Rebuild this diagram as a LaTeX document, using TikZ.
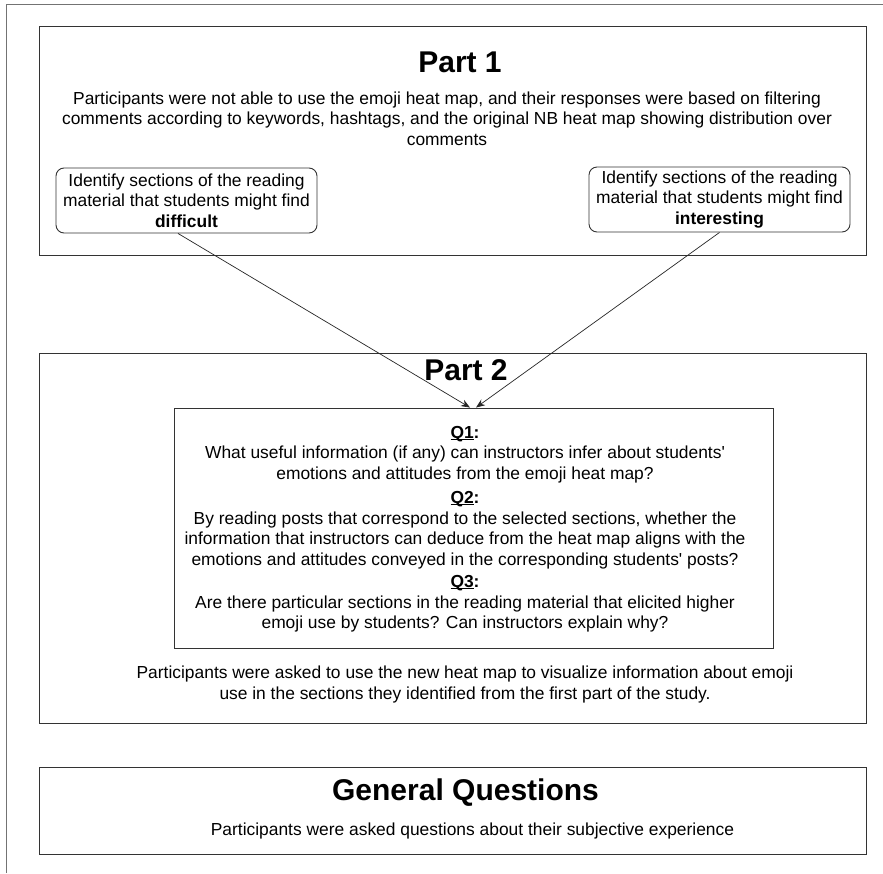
\documentclass[tikz,border=0pt]{standalone}
\usepackage{fontspec}
\setmainfont{Liberation Sans}[Ligatures=TeXOff]
\usetikzlibrary{arrows.meta}
\newcommand\qlabelul[1]{\setbox0\hbox{\textbf{#1}}\rlap{\rule[-1.8pt]{\wd0}{0.9pt}}\box0\textbf{:}}
\begin{document}
\begin{tikzpicture}[x=1pt,y=-1pt,
  frame/.style={draw=black!80, line width=0.9pt, inner sep=0pt},
  outer/.style={draw=black!55, line width=1.2pt},
  body/.style={font=\fontsize{17.4}{20.5}\selectfont, align=center, inner sep=0pt},
  title/.style={font=\fontsize{30}{36}\selectfont\bfseries, inner sep=0pt},
  card/.style={frame, rounded corners=8pt, minimum width=261pt, minimum height=65pt, body},
  link/.style={draw=black!85, line width=0.7pt, -{Stealth[length=9pt,width=7pt]}}]
\useasboundingbox (0,0) rectangle (883,873);
\fill[white] (0,0) rectangle (883,873);
% outer frame (partly visible)
\coordinate (ob) at (6.5,873);
\coordinate (oc) at (6.5,4.5);
\coordinate (or) at (883,4.5);
\draw[outer] (ob) -- (oc) -- (or);
% main boxes
\node[frame, minimum width=827pt, minimum height=229pt] (p1) at (452.5,140.5) {};
\node[frame, minimum width=827pt, minimum height=370pt] (p2) at (452.5,538) {};
\node[frame, minimum width=827pt, minimum height=87pt] (gq) at (452.5,810.5) {};
% Part 1
\node[title] (t1) at (460,62) {Part 1};
\node[body] (d1) at (447,118.5) {Participants were not able to use the emoji heat map, and their responses were based on filtering\\
comments according to keywords, hashtags, and the original NB heat map showing distribution over\\
comments};
\node[card] (c1) at (186.5,200.5) {Identify sections of the reading\\material that students might find\\\textbf{difficult}};
\node[card] (c2) at (719.5,199.5) {Identify sections of the reading\\material that students might find\\\textbf{interesting}};
% Part 2
\node[title] (t2) at (466,370) {Part 2};
\node[frame, minimum width=599pt, minimum height=240pt] (q) at (473.5,528) {};
\node[body] (qt) at (465,529) {\qlabelul{Q1}\\
What useful information (if any) can instructors infer about students'\\
emotions and attitudes from the emoji heat map?\\[4pt]
\qlabelul{Q2}\\
By reading posts that correspond to the selected sections, whether the\\
information that instructors can deduce from the heat map aligns with the\\
emotions and attitudes conveyed in the corresponding students' posts?\\[2pt]
\qlabelul{Q3}\\
Are there particular sections in the reading material that elicited higher\\
emoji use by students? Can instructors explain why?};
\node[body] (d2) at (465,684.5) {Participants were asked to use the new heat map to visualize information about emoji\\
use in the sections they identified from the first part of the study.};
% General
\node[title] (t3) at (465.5,793) {General Questions};
\node[body] (d3) at (472.5,831) {Participants were asked questions about their subjective experience};
% connectors
\draw[link] ([xshift=-8.5pt]c1.south) -- ([xshift=-3.5pt]q.north);
\draw[link] (c2.south) -- ([xshift=2.5pt]q.north);
\end{tikzpicture}
\end{document}
